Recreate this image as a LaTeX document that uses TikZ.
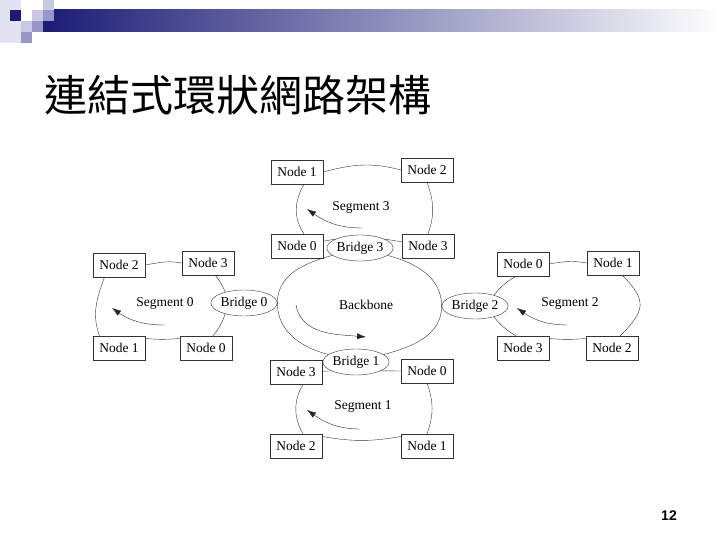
\documentclass[tikz,border=0pt]{standalone}
\usepackage{fontspec}
\setmainfont{Liberation Serif}
\newfontfamily\cjk{Noto Sans CJK TC}
\newfontfamily\pagefont{Liberation Sans}
\usetikzlibrary{shapes.geometric, arrows.meta}
\definecolor{hdrnavy}{RGB}{27,27,117}
\definecolor{hdrmid}{RGB}{150,150,200}
\definecolor{hdrlight}{RGB}{200,200,228}
\definecolor{hdrpale}{RGB}{226,226,241}

\begin{document}
\begin{tikzpicture}[x=1pt, y=1pt,
            > = {Latex[length=9pt,width=6pt]},
  station/.style = {draw=black!80, fill=white, thin, minimum width=52pt,
                    minimum height=24pt, inner sep=0pt,
                    font=\fontsize{13.5}{15}\selectfont},
   bridge/.style = {draw=black!80, fill=white, thin, ellipse, minimum width=57pt,
                    minimum height=26pt, inner sep=0pt,
                    font=\fontsize{13.5}{15}\selectfont},
  segtext/.style = {font=\fontsize{13.5}{15}\selectfont},
     ring/.style = {draw=black!80, thin},
  flowarr/.style = {draw=black!85, thin, ->}
                        ]
\useasboundingbox (0,0) rectangle (720,540);
% header
\shade[left color=hdrnavy, right color=white] (43,508) rectangle (720,530);
\fill[hdrpale]  (0,497)  rectangle (21,540);
\fill[hdrnavy]  (10,519) rectangle (21,530);
\fill[hdrlight] (32,519) rectangle (43,530);
\fill[hdrlight] (43,530) rectangle (54,540);
\fill[hdrmid]   (43,519) rectangle (54,530);
\fill[hdrlight] (21,508) rectangle (32,519);
\fill[hdrmid]   (32,508) rectangle (43,519);
\fill[hdrmid]   (21,497) rectangle (32,508);
\node[anchor=west, inner sep=0pt, font=\cjk\fontsize{43}{45}\selectfont] (title) at (44,445) {連結式環狀網路架構};
\node[font=\pagefont\bfseries\fontsize{14}{16}\selectfont] (pgno) at (669,24) {12};
% bridges and backbone
\node[bridge] (b0) at (244,237) {Bridge 0};
\node[bridge] (b1) at (356,178) {Bridge 1};
\node[bridge] (b2) at (475,234) {Bridge 2};
\node[bridge] (b3) at (360,292) {Bridge 3};
\node[segtext] (bbone) at (366,235) {Backbone};
\draw[ring] (b0.east) to[out=90,in=195] (b3);
\draw[ring] (b3) to[out=-15,in=90] (b2.west);
\draw[ring] (b2.west) to[out=-90,in=15] (b1);
\draw[ring] (b1) to[out=165,in=-90] (b0.east);
% segment 3
\node[station] (t1) at (297,368) {Node 1};
\node[station] (t2) at (427,370) {Node 2};
\node[station] (t0) at (297,294) {Node 0};
\node[station] (t3) at (428,294) {Node 3};
\node[segtext] (seg3) at (361,333) {Segment 3};
\draw[ring] (t1.east) to[out=15,in=165] (t2.west);
\draw[ring] (t2.south) to[out=-70,in=70] (t3.north);
\draw[ring] (b3.20) -- (t3);
\draw[ring] (t0) -- (b3.160);
\draw[ring] (t0.60) to[out=125,in=-120] (t1.-60);
% segment 0
\node[station] (l2) at (119,275) {Node 2};
\node[station] (l3) at (208,277) {Node 3};
\node[station] (l1) at (119,192) {Node 1};
\node[station] (l0) at (206,192) {Node 0};
\node[segtext] (seg0) at (165,237) {Segment 0};
\draw[ring] (l2.east) to[out=10,in=170] (l3.west);
\draw[ring] (l3.-60) to[bend left=10] (b0.150);
\draw[ring] (b0.-150) to[bend left=10] (l0.60);
\draw[ring] (l0.160) to[out=185,in=-5] (l1.20);
\draw[ring] (l1.148) to[out=110,in=-110] (l2.220);
% segment 2
\node[station] (r0) at (523,276) {Node 0};
\node[station] (r1) at (613,277) {Node 1};
\node[station] (r3) at (523,192) {Node 3};
\node[station] (r2) at (612,192) {Node 2};
\node[segtext] (seg2) at (570,237) {Segment 2};
\draw[ring] (r0.east) to[out=10,in=170] (r1.west);
\draw[ring] (r1.-53) to[out=-45,in=45,looseness=1.5] (r2.56);
\draw[ring] (r2.160) to[out=185,in=-5] (r3.20);
\draw[ring] (r3.120) to[bend left=10] (b2.-30);
\draw[ring] (b2.30) to[bend left=10] (r0.-120);
% segment 1
\node[station] (d3) at (296,168) {Node 3};
\node[station] (d0) at (427,169) {Node 0};
\node[station] (d2) at (296,94) {Node 2};
\node[station] (d1) at (427,94) {Node 1};
\node[segtext] (seg1) at (363,134) {Segment 1};
\draw[ring] (b1.-20) -- (d0);
\draw[ring] (d0.south) to[out=-70,in=70] (d1.north);
\draw[ring] (d1.160) to[out=190,in=-10] (d2.20);
\draw[ring] (d2.60) to[out=120,in=-120] (d3.-60);
\draw[ring] (d3) -- (b1.200);
% direction arrows
\coordinate (a3s) at (362,312); \coordinate (a3e) at (307,331);
\coordinate (a0s) at (165,215); \coordinate (a0e) at (112,232);
\coordinate (a2s) at (568,215); \coordinate (a2e) at (517,232);
\coordinate (a1s) at (360,111); \coordinate (a1e) at (307,130);
\coordinate (abs) at (296,235); \coordinate (abe) at (366,203);
\draw[flowarr] (a3s) to[out=180,in=-35] (a3e);
\draw[flowarr] (a0s) to[out=180,in=-35] (a0e);
\draw[flowarr] (a2s) to[out=180,in=-35] (a2e);
\draw[flowarr] (a1s) to[out=180,in=-35] (a1e);
\draw[flowarr] (abs) to[out=-80,in=175] (abe);
\end{tikzpicture}
\end{document}
